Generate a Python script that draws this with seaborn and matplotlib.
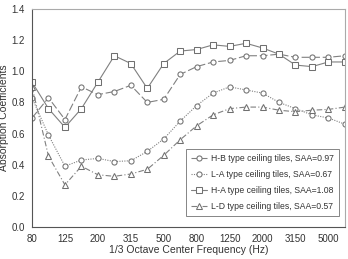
import numpy as np
import pandas as pd
import matplotlib
matplotlib.use("Agg")
import matplotlib.pyplot as plt
import seaborn as sns

# 1/3 octave band centre frequencies (Hz)
freqs = [80, 100, 125, 160, 200, 250, 315, 400, 500, 630, 800, 1000,
         1250, 1600, 2000, 2500, 3150, 4000, 5000, 6300]
tick_labels = ["80", "125", "200", "315", "500", "800", "1250", "2000",
               "3150", "5000"]

hb = [0.70, 0.83, 0.69, 0.90, 0.85, 0.87, 0.91, 0.80, 0.82, 0.98, 1.03,
      1.06, 1.07, 1.10, 1.10, 1.11, 1.09, 1.09, 1.09, 1.10]
la = [0.83, 0.59, 0.39, 0.43, 0.44, 0.42, 0.425, 0.485, 0.565, 0.68, 0.78,
      0.86, 0.90, 0.88, 0.86, 0.80, 0.76, 0.72, 0.70, 0.66]
ha = [0.93, 0.76, 0.64, 0.76, 0.93, 1.10, 1.05, 0.89, 1.05, 1.13, 1.14,
      1.17, 1.16, 1.18, 1.15, 1.11, 1.04, 1.03, 1.06, 1.06]
ld = [0.90, 0.455, 0.27, 0.39, 0.335, 0.325, 0.34, 0.37, 0.46, 0.56, 0.65,
      0.72, 0.76, 0.77, 0.77, 0.75, 0.74, 0.75, 0.755, 0.77]

labels = ["H-B type ceiling tiles, SAA=0.97",
          "L-A type ceiling tiles, SAA=0.67",
          "H-A type ceiling tiles, SAA=1.08",
          "L-D type ceiling tiles, SAA=0.57"]

sns.set_style("white")
plt.rcParams['font.family'] = ['Liberation Sans', 'DejaVu Sans']

fig = plt.figure(figsize=(3.48, 2.59), dpi=100)
ax = fig.add_axes([0.092, 0.124, 0.899, 0.841])

pos = np.arange(len(freqs))
gray = "#808080"
styles = [
    (hb, "o", (0, (7, 2.5)), labels[0]),
    (la, "o", (0, (1, 1.2)), labels[1]),
    (ha, "s", "-", labels[2]),
    (ld, "^", (0, (5, 2, 1, 2)), labels[3]),
]
for vals, mk, ls, lab in styles:
    df = pd.DataFrame({"x": pos, "y": vals})
    sns.lineplot(data=df, x="x", y="y", ax=ax, color=gray, linewidth=0.8,
                 linestyle=ls, marker=mk, markersize=3.7,
                 markerfacecolor="white", markeredgecolor="#707070",
                 markeredgewidth=0.75, label=lab)

ax.set_xlim(0, len(freqs) - 1)
ax.set_ylim(0, 1.4)
ax.set_xticks(pos)
ax.set_xticklabels([str(f) if str(f) in tick_labels else "" for f in freqs])
ax.set_yticks(np.arange(0, 1.41, 0.2))
ax.set_yticklabels(["%.1f" % v for v in np.arange(0, 1.41, 0.2)])
ax.tick_params(axis="both", direction="out", length=3, width=0.7,
               color="#888888", labelsize=7, labelcolor="#333333", pad=2)
for s in ax.spines.values():
    s.set_color("#aaaaaa")
    s.set_linewidth(0.8)
ax.spines["left"].set_color("#555555")
ax.spines["bottom"].set_color("#555555")

ax.set_xlabel("1/3 Octave Center Frequency (Hz)", fontsize=7.5,
              color="#333333", labelpad=1)
ax.set_ylabel("Absorption Coefficients", fontsize=7.5, color="#333333",
              labelpad=2)

leg = ax.legend(loc="lower right", fontsize=6.2, frameon=True,
                fancybox=False, edgecolor="#666666", handlelength=1.8,
                borderpad=0.6, labelspacing=0.8, handletextpad=0.5,
                bbox_to_anchor=(0.995, 0.03))
leg.get_frame().set_linewidth(0.7)
for t in leg.get_texts():
    t.set_color("#333333")

fig.savefig("out.png", dpi=100)
